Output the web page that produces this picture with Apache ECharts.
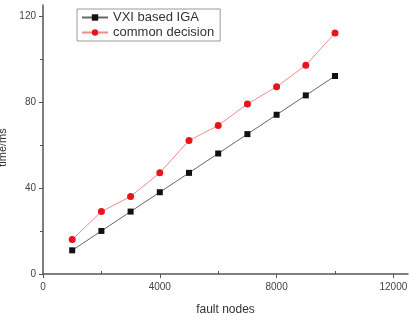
<!DOCTYPE html>
<html>
<head>
<meta charset="UTF-8">
<title></title>
<script src="https://cdn.jsdelivr.net/npm/echarts@6/dist/echarts.min.js"></script>
<style>
  html, body { margin: 0; padding: 0; background: #fff; }
  #main { width: 410px; height: 313px; }
</style>
</head>
<body>
<div id="main"></div>
<script>
var faultNodes = [1000, 2000, 3000, 4000, 5000, 6000, 7000, 8000, 9000, 10000];
var vxiIga = [11, 20, 29, 38, 47, 56, 65, 74, 83, 92];
var commonDecision = [16, 29, 36, 47, 62, 69, 79, 87, 97, 112];
var xTicks = [0, 4000, 8000, 12000];
var xMinorTicks = [2000, 6000, 10000];
var yTicks = [0, 40, 80, 120];
var yMinorTicks = [20, 60, 100];

function pairs(xs, ys) {
  return xs.map(function (x, i) { return [x, ys[i]]; });
}

var myChart = echarts.init(document.getElementById('main'));
var axisCol = '#555';
var font = 'Liberation Sans';

// second hidden axis only for the short minor ticks
function minorAxis(min, max, ticks) {
  return {
    type: 'value', min: min, max: max,
    splitLine: { show: false },
    axisLine: { show: false },
    axisLabel: { show: false },
    axisTick: { customValues: ticks, length: 3, lineStyle: { color: axisCol } }
  };
}

var option = {
  animation: false,
  grid: { left: 43, right: 2, top: 5, bottom: 39, outerBoundsMode: 'none' },
  legend: {
    orient: 'vertical',
    left: 77, top: 9,
    padding: [2, 6, 2, 4],
    itemGap: 2,
    itemWidth: 26, itemHeight: 8,
    borderColor: '#999', borderWidth: 1,
    textStyle: { fontFamily: font, fontSize: 13, color: '#333' },
    data: ['VXI based IGA', 'common decision']
  },
  xAxis: [{
    type: 'value',
    min: 0, max: 12500, interval: 4000,
    name: 'fault nodes', nameLocation: 'middle', nameGap: 30,
    nameTextStyle: { fontFamily: font, fontSize: 12, color: '#333' },
    splitLine: { show: false },
    axisLine: { lineStyle: { color: axisCol, width: 1.5 } },
    axisTick: { customValues: xTicks, length: 4, lineStyle: { color: axisCol } },
    axisLabel: {
      customValues: xTicks, fontFamily: font, fontSize: 10, color: '#444', margin: 8,
      formatter: function (v) { return String(v); }
    }
  }, minorAxis(0, 12500, xMinorTicks)],
  yAxis: [{
    type: 'value',
    min: 0, max: 125, interval: 40,
    name: 'time/ms', nameLocation: 'middle', nameGap: 22, nameRotate: 90,
    nameTextStyle: { fontFamily: font, fontSize: 11, color: '#333', padding: [0, 16, 0, 0] },
    splitLine: { show: false },
    axisLine: { lineStyle: { color: axisCol, width: 1.5 } },
    axisTick: { customValues: yTicks, length: 4, lineStyle: { color: axisCol } },
    axisLabel: { customValues: yTicks, fontFamily: font, fontSize: 10, color: '#444', margin: 7 }
  }, Object.assign(minorAxis(0, 125, yMinorTicks), { position: 'left' })],
  series: [{
    name: 'VXI based IGA',
    type: 'line',
    symbol: 'rect', symbolSize: 6,
    itemStyle: { color: '#111' },
    lineStyle: { color: '#666', width: 1 },
    data: pairs(faultNodes, vxiIga)
  }, {
    name: 'common decision',
    type: 'line',
    symbol: 'circle', symbolSize: 7,
    itemStyle: { color: '#e8141c' },
    lineStyle: { color: '#f08a8a', width: 1 },
    data: pairs(faultNodes, commonDecision)
  }]
};
myChart.setOption(option);
</script>
</body>
</html>
